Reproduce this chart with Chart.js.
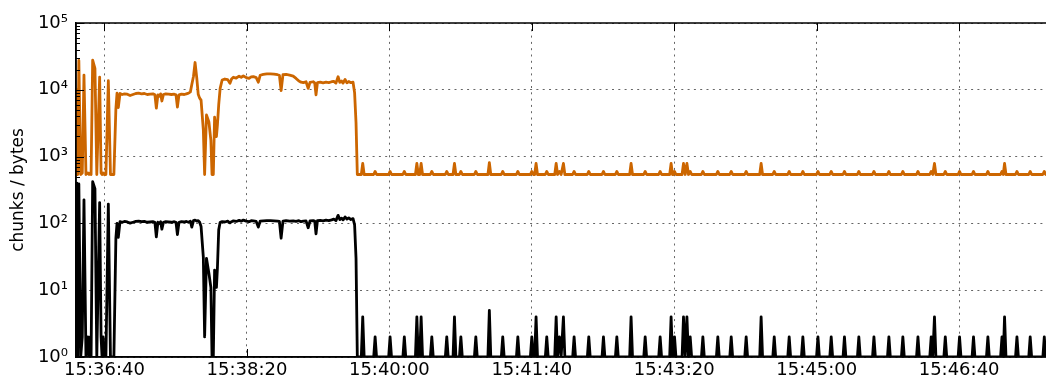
<!DOCTYPE html>
<html>
<head>
<meta charset="utf-8">
<script src="https://cdn.jsdelivr.net/npm/chart.js@4.4.1/dist/chart.umd.min.js"></script>
<style>
  html, body { margin: 0; padding: 0; background: #fff; }
  #wrap { width: 1046px; height: 379px; position: relative; }
  canvas { display: block; }
</style>
</head>
<body>
<div id="wrap"><canvas id="c" width="1046" height="379"></canvas></div>
<script>
// Visible time window (wall clock)
const viewStart = '15:36:20';
const viewEnd = '15:47:41';

// Axis ticks
const xTickLabels = ['15:36:40', '15:38:20', '15:40:00', '15:41:40', '15:43:20', '15:45:00', '15:46:40'];
const yTickValues = [1, 10, 100, 1000, 10000, 100000];
const yTickLabels = ['10\u2070', '10\u00B9', '10\u00B2', '10\u00B3', '10\u2074', '10\u2075'];

// Sample times, seconds after viewStart
const sampleSec = [
  // start-up burst
  0, 0.6, 1.2, 2.0, 3.3, 4.4, 5.6, 7.0, 8.4, 9.2, 10.0, 10.6, 11.7, 13.3, 14.6,
  16.6, 17.6, 18.3, 19.0, 19.8, 21.0, 22.7, 24.2, 26.6,
  // first steady phase
  28.0, 28.8, 29.7, 30.9, 32.5, 34.0, 36.0, 38.0, 40.0, 42.0, 44.0, 46.0, 48.0,
  50.0, 52.0, 54.0, 55.4, 56.4, 57.5, 58.6, 59.4, 60.3, 61.4, 63.0, 65.0, 67.0,
  69.0, 70.2, 71.2, 72.3, 74.0, 76.0, 77.5, 79.0, 80.3, 81.3, 82.5, 83.6, 84.8,
  85.8, 86.8, 87.8,
  // stall
  89.4, 90.3, 91.6, 93.3, 94.7, 95.5, 96.4, 97.3, 98.6, 99.3, 100.2,
  // second steady phase
  101.2, 102.6, 104.5, 106.5, 108.1, 109.2, 110.5, 112.5, 114.5, 116.0, 117.5,
  119.5, 121.5, 123.0, 124.5, 126.5, 128.0, 129.3, 131.5, 134.0, 136.5, 139.0,
  141.5, 142.8, 144.0, 145.3, 147.5, 150.0, 152.5, 154.5, 156.5, 158.0, 159.6,
  161.5, 163.0, 164.3, 166.5, 167.6, 168.5, 169.5, 171.5, 173.5, 175.5, 177.5,
  179.5, 181.0, 182.5, 184.0, 185.2, 186.5, 187.5, 188.9, 190.2, 191.5, 193.0,
  194.5, 195.6, 196.6, 197.5,
  // idle keep-alives
  200.3, 201.3, 202.3,
  209.0, 210.0, 211.0,
  219.5, 220.5, 221.5,
  229.5, 230.5, 231.5,
  238.3, 239.3, 240.3, 241.3, 242.3, 243.3,
  248.8, 249.8, 250.8,
  259.3, 260.3, 261.3,
  264.7, 265.7, 266.7,
  269.2, 270.2, 271.2,
  279.7, 280.7, 281.7,
  289.2, 290.2, 291.2,
  298.6, 299.6, 300.6,
  309.2, 310.2, 311.2,
  319.0, 320.0, 321.0, 322.0, 323.0, 324.0,
  329.5, 330.5, 331.5,
  336.1, 337.1, 338.1, 339.4, 340.6, 341.2, 342.2, 343.2,
  348.7, 349.7, 350.7,
  359.0, 360.0, 361.0,
  369.3, 370.3, 371.3,
  378.7, 379.7, 380.7,
  388.7, 389.7, 390.7,
  398.6, 399.6, 400.6,
  409.1, 410.1, 411.1,
  416.8, 417.8, 418.8, 419.3, 420.2, 421.2,
  425.5, 426.5, 427.7, 428.9, 430.0, 431.2, 432.2,
  439.1, 440.1, 441.1,
  449.6, 450.6, 451.6,
  459.0, 460.0, 461.0,
  469.5, 470.5, 471.5,
  480.0, 481.0, 482.0,
  489.2, 490.2, 491.2,
  499.7, 500.7, 501.7,
  509.3, 510.3, 511.3,
  519.9, 520.9, 521.9,
  529.2, 530.2, 531.2,
  538.5, 539.5, 540.5,
  548.6, 549.6, 550.6,
  559.2, 560.2, 561.2,
  569.7, 570.7, 571.7,
  579.5, 580.5, 581.5,
  590.1, 591.1, 592.1,
  599.4, 600.4, 601.5, 602.7, 603.7,
  609.3, 610.3, 611.3,
  619.3, 620.3, 621.3,
  629.1, 630.1, 631.1,
  639.2, 640.2, 641.2,
  649.1, 650.1, 651.0, 651.9, 652.9,
  659.6, 660.6, 661.6,
  668.9, 669.9, 670.9,
  678.8, 679.8, 680.8, 681.3
];

// Chunks per sample
const chunks = [
  0, 400, 0, 390, 0, 2, 225, 0, 2, 0, 2, 0, 420, 330, 0,
  205, 2, 0, 2, 0, 0, 195, 0, 0,
  60, 100, 62, 106, 104, 107, 105, 101, 104, 107, 108, 106, 107,
  104, 105, 106, 104, 63, 104, 100, 106, 82, 104, 106, 105, 104,
  106, 104, 68, 104, 106, 105, 107, 104, 108, 88, 110, 112, 108,
  110, 104, 90,
  31, 2, 30, 18, 11, 0, 0, 20, 11, 22, 80,
  104, 106, 105, 108, 102, 106, 109, 107, 111, 108, 112,
  108, 106, 110, 109, 107, 88, 108, 109, 110, 110, 109,
  108, 107, 60, 108, 110, 108, 109, 107, 110, 106, 108,
  109, 86, 109, 110, 108, 70, 110, 111, 109, 112, 110,
  113, 116, 110, 132, 114, 120, 113, 125, 116, 121, 114,
  118, 95, 30, 0,
  0, 4, 0,
  0, 2, 0,
  0, 2, 0,
  0, 2, 0,
  0, 4, 0, 0, 4, 0,
  0, 2, 0,
  0, 2, 0,
  0, 4, 0,
  0, 2, 0,
  0, 2, 0,
  0, 5, 0,
  0, 2, 0,
  0, 2, 0,
  0, 2, 0, 0, 4, 0,
  0, 2, 0,
  0, 4, 0, 2, 0, 0, 4, 0,
  0, 2, 0,
  0, 2, 0,
  0, 2, 0,
  0, 2, 0,
  0, 4, 0,
  0, 2, 0,
  0, 2, 0,
  0, 4, 0, 0, 2, 0,
  0, 4, 0, 4, 0, 2, 0,
  0, 2, 0,
  0, 2, 0,
  0, 2, 0,
  0, 2, 0,
  0, 4, 0,
  0, 2, 0,
  0, 2, 0,
  0, 2, 0,
  0, 2, 0,
  0, 2, 0,
  0, 2, 0,
  0, 2, 0,
  0, 2, 0,
  0, 2, 0,
  0, 2, 0,
  0, 2, 0,
  0, 2, 0, 4, 0,
  0, 2, 0,
  0, 2, 0,
  0, 2, 0,
  0, 2, 0,
  0, 2, 0, 4, 0,
  0, 2, 0,
  0, 2, 0,
  0, 2, 0, 0
];

// Bytes per sample
const bytes = [
  540, 10000, 540, 27500, 540, 570, 16600, 540, 570, 540, 570, 540, 27700, 21000, 540,
  15500, 570, 540, 570, 540, 540, 13700, 540, 540,
  5200, 8900, 5400, 8800, 8500, 8700, 8600, 8200, 8500, 8800, 8900, 8700, 8800,
  8500, 8600, 8700, 8400, 5300, 8400, 8000, 8700, 6800, 8500, 8700, 8600, 8500,
  8600, 8400, 5500, 8400, 8600, 8500, 8700, 8900, 9300, 12000, 16000, 25600, 15000,
  8600, 7500, 7000,
  2500, 540, 4200, 3300, 1750, 540, 540, 3900, 2000, 3000, 6000,
  10500, 14000, 14500, 14200, 12500, 14500, 15400, 15000, 16000, 15400, 16200,
  15200, 14800, 15600, 15800, 15200, 13000, 16500, 17000, 17300, 17300, 17200,
  16800, 16500, 9700, 16800, 17000, 16600, 16000, 14800, 13500, 13000, 12800,
  13200, 10500, 12900, 13200, 12700, 8400, 12800, 13000, 12700, 13000, 12800,
  13200, 13400, 12600, 15700, 12900, 13500, 12600, 14300, 12700, 13300, 12800,
  13000, 9000, 3200, 540,
  540, 790, 540,
  540, 600, 540,
  540, 600, 540,
  540, 600, 540,
  540, 790, 540, 540, 790, 540,
  540, 600, 540,
  540, 600, 540,
  540, 790, 540,
  540, 600, 540,
  540, 600, 540,
  540, 810, 540,
  540, 600, 540,
  540, 600, 540,
  540, 600, 540, 540, 790, 540,
  540, 600, 540,
  540, 790, 540, 600, 540, 540, 790, 540,
  540, 600, 540,
  540, 600, 540,
  540, 600, 540,
  540, 600, 540,
  540, 790, 540,
  540, 600, 540,
  540, 600, 540,
  540, 790, 540, 540, 600, 540,
  540, 790, 540, 790, 540, 600, 540,
  540, 600, 540,
  540, 600, 540,
  540, 600, 540,
  540, 600, 540,
  540, 790, 540,
  540, 600, 540,
  540, 600, 540,
  540, 600, 540,
  540, 600, 540,
  540, 600, 540,
  540, 600, 540,
  540, 600, 540,
  540, 600, 540,
  540, 600, 540,
  540, 600, 540,
  540, 600, 540,
  540, 600, 540, 790, 540,
  540, 600, 540,
  540, 600, 540,
  540, 600, 540,
  540, 600, 540,
  540, 600, 540, 790, 540,
  540, 600, 540,
  540, 600, 540,
  540, 600, 540, 540
];

function clockToSec(s) {
  const [h, m, sec] = s.split(':').map(Number);
  return h * 3600 + m * 60 + sec;
}
const t0 = clockToSec(viewStart);
const xTickSec = xTickLabels.map(l => clockToSec(l) - t0);
const yFloor = yTickValues[0];

const FONT = 'DejaVu Sans';
const orange = '#cc6600';

// Inward tick marks and solid frame, drawn over the lines
const framePlugin = {
  id: 'frame',
  afterDatasetsDraw(chart) {
    const { ctx, chartArea: { left, top, right, bottom }, scales: { x, y } } = chart;
    ctx.save();
    ctx.strokeStyle = '#000';
    ctx.lineWidth = 1.5;
    ctx.beginPath();
    ctx.moveTo(left, top); ctx.lineTo(right + 2, top);
    ctx.moveTo(left, top); ctx.lineTo(left, bottom);
    ctx.moveTo(left, bottom); ctx.lineTo(right + 2, bottom);
    ctx.stroke();
    ctx.lineWidth = 1;
    ctx.beginPath();
    xTickSec.forEach(v => {
      const px = Math.round(x.getPixelForValue(v)) + 0.5;
      ctx.moveTo(px, top); ctx.lineTo(px, top + 8);
      ctx.moveTo(px, bottom); ctx.lineTo(px, bottom - 8);
    });
    yTickValues.forEach((v, i) => {
      const py = Math.round(y.getPixelForValue(v)) + 0.5;
      ctx.moveTo(left, py); ctx.lineTo(left + 8, py);
      if (i < yTickValues.length - 1) {
        for (let k = 2; k <= 9; k++) {
          const pm = Math.round(y.getPixelForValue(v * k)) + 0.5;
          ctx.moveTo(left, pm); ctx.lineTo(left + 4, pm);
        }
      }
    });
    ctx.stroke();
    ctx.restore();
  }
};

// A log axis has no zero: samples with no chunks sit on the axis floor
const bytesPoints = sampleSec.map((s, i) => ({ x: s, y: bytes[i] }));
const chunkPoints = sampleSec.map((s, i) => ({ x: s, y: chunks[i] > 0 ? chunks[i] : yFloor }));

new Chart(document.getElementById('c'), {
  type: 'line',
  data: {
    datasets: [
      { label: 'bytes', data: bytesPoints, borderColor: orange, borderWidth: 2.8,
        pointRadius: 0, tension: 0, borderJoinStyle: 'round', fill: false },
      { label: 'chunks', data: chunkPoints, borderColor: '#000', borderWidth: 2.8,
        pointRadius: 0, tension: 0, borderJoinStyle: 'round', fill: false }
    ]
  },
  options: {
    responsive: false,
    animation: false,
    devicePixelRatio: 1,
    layout: { padding: { top: 23, left: 0, right: 0, bottom: 0 } },
    plugins: { legend: { display: false }, tooltip: { enabled: false } },
    scales: {
      x: {
        type: 'linear',
        min: 0,
        max: clockToSec(viewEnd) - t0,
        afterBuildTicks: s => { s.ticks = xTickSec.map(v => ({ value: v })); },
        afterFit: s => { s.height = 22; },
        ticks: {
          callback: (v, i) => xTickLabels[i],
          font: { family: FONT, size: 18 }, color: '#000',
          padding: 3, maxRotation: 0, autoSkip: false
        },
        grid: { color: '#666', lineWidth: 1, drawTicks: false },
        border: { display: true, color: '#000', width: 1.5, dash: [2, 4.3] }
      },
      y: {
        type: 'logarithmic',
        min: 1,
        max: 100000,
        afterBuildTicks: s => { s.ticks = yTickValues.map(v => ({ value: v })); },
        afterFit: s => { s.width = 76; },
        ticks: {
          callback: (v, i) => yTickLabels[i],
          font: { family: FONT, size: 18 }, color: '#000',
          padding: 8, autoSkip: false
        },
        grid: { color: '#666', lineWidth: 1, drawTicks: false },
        border: { display: true, color: '#000', width: 1.5, dash: [2, 4.3] },
        title: {
          display: true, text: 'chunks / bytes',
          font: { family: FONT, size: 17 }, color: '#000',
          padding: { top: 8, bottom: 0 }
        }
      }
    }
  },
  plugins: [framePlugin]
});
</script>
</body>
</html>
